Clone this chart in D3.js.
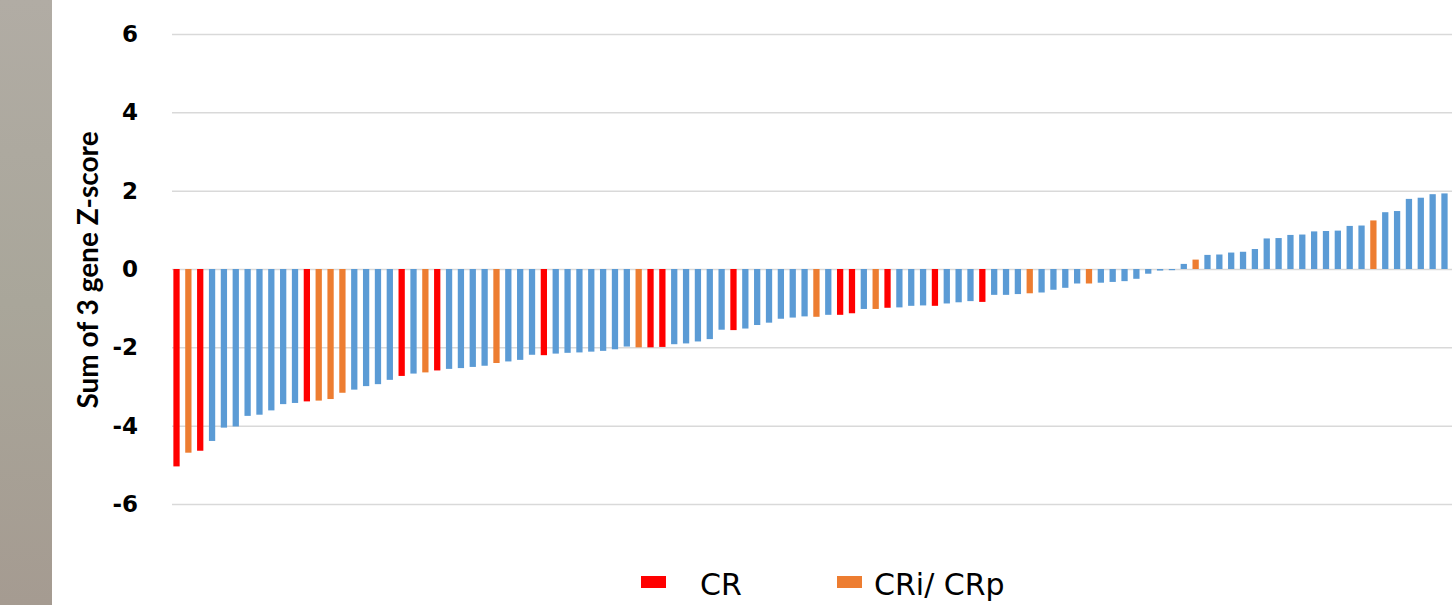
<!DOCTYPE html>
<html>
<head>
<meta charset="utf-8">
<script src="https://cdn.jsdelivr.net/npm/d3@7/dist/d3.min.js"></script>
<style>
  body { margin: 0; background: #fff; }
  svg { display: block; }
</style>
</head>
<body>
<div id="chart"></div>
<script>
// sum of 3 gene z-score per sample, sorted ascending
const zScores = [
  -5.04, -4.69, -4.64, -4.39, -4.05, -4.02, -3.75, -3.72, -3.61, -3.45,
  -3.42, -3.38, -3.36, -3.32, -3.16, -3.08, -2.99, -2.94, -2.83, -2.73,
  -2.67, -2.64, -2.59, -2.55, -2.53, -2.50, -2.47, -2.40, -2.36, -2.32,
  -2.19, -2.20, -2.16, -2.14, -2.13, -2.11, -2.09, -2.05, -1.98, -2.00,
  -2.00, -1.99, -1.92, -1.90, -1.85, -1.79, -1.55, -1.56, -1.52, -1.43,
  -1.37, -1.27, -1.24, -1.21, -1.22, -1.17, -1.17, -1.13, -1.02, -1.02,
  -0.99, -0.98, -0.94, -0.93, -0.94, -0.88, -0.85, -0.82, -0.84, -0.66,
  -0.66, -0.64, -0.62, -0.60, -0.53, -0.48, -0.37, -0.37, -0.35, -0.33,
  -0.31, -0.25, -0.12, -0.04, -0.03, 0.13, 0.24, 0.36, 0.37, 0.42,
  0.44, 0.51, 0.78, 0.79, 0.87, 0.88, 0.96, 0.97, 0.98, 1.10,
  1.11, 1.24, 1.45, 1.48, 1.79, 1.82, 1.91, 1.93
];
// sample numbers (1-based) by response
const crSamples = [1, 3, 12, 20, 23, 32, 41, 42, 48, 57, 58, 61, 65, 69];
const criSamples = [2, 13, 14, 15, 22, 28, 40, 55, 60, 73, 78, 87, 102];
const samples = zScores.map((d, i) => i + 1);
const yTicks = [6, 4, 2, 0, -2, -4, -6];
const legendLabels = ["CR", "CRi/ CRp"];

const colors = { cr: "#ff0000", cri: "#ed7d31", other: "#5b9bd5" };

const W = 1452, H = 605;
const svg = d3.select("#chart").append("svg")
    .attr("width", W)
    .attr("height", H);

// grey strip at the left edge
const grad = svg.append("defs").append("linearGradient")
    .attr("id", "strip").attr("x1", 0).attr("y1", 0).attr("x2", 0).attr("y2", 1);
grad.append("stop").attr("offset", "0%").attr("stop-color", "#b1aca4");
grad.append("stop").attr("offset", "50%").attr("stop-color", "#a9a69a");
grad.append("stop").attr("offset", "100%").attr("stop-color", "#a59b91");
svg.append("rect").attr("x", 0).attr("y", 0).attr("width", 52).attr("height", H)
    .attr("fill", "url(#strip)");

const x = d3.scaleBand().domain(samples).range([171, 1450])
    .paddingInner(0.47).paddingOuter(0.2);
const y = d3.scaleLinear().domain([-6, 6]).range([504, 34]);

// gridlines
svg.append("g")
    .attr("transform", "translate(172,0)")
    .call(d3.axisLeft(y).tickValues(yTicks).tickSize(-(W - 172)).tickFormat(""))
    .call(g => g.select(".domain").remove())
    .call(g => g.selectAll("line").attr("stroke", "#d9d9d9").attr("stroke-width", 1.5));

// y tick labels (plain hyphen minus, like the original)
svg.append("g")
    .attr("transform", "translate(138,0)")
    .call(d3.axisLeft(y).tickValues(yTicks).tickSize(0).tickPadding(0)
        .tickFormat(d => String(d)))
    .call(g => g.select(".domain").remove())
    .call(g => g.selectAll("text")
        .attr("font-family", "DejaVu Sans")
        .attr("font-weight", "bold")
        .attr("font-size", 23)
        .attr("fill", "#000"));

svg.append("text")
    .attr("transform", "translate(98,270) rotate(-90)")
    .attr("text-anchor", "middle")
    .attr("font-family", "Lato")
    .attr("font-weight", "bold")
    .attr("font-size", 28)
    .attr("fill", "#000")
    .text("Sum of 3 gene  Z-score");

function barColor(s) {
    if (crSamples.includes(s)) return colors.cr;
    if (criSamples.includes(s)) return colors.cri;
    return colors.other;
}

svg.append("g").selectAll("rect")
    .data(zScores)
    .join("rect")
    .attr("x", (d, i) => x(samples[i]))
    .attr("width", x.bandwidth())
    .attr("y", d => y(Math.max(0, d)))
    .attr("height", d => Math.abs(y(d) - y(0)))
    .attr("fill", (d, i) => barColor(samples[i]));

// legend
const legend = svg.append("g");
const legendX = [641, 837];
const legendColors = [colors.cr, colors.cri];
legendLabels.forEach((label, i) => {
    legend.append("rect")
        .attr("x", legendX[i]).attr("y", 576)
        .attr("width", 25).attr("height", 12)
        .attr("fill", legendColors[i]);
    legend.append("text")
        .attr("x", legendX[i] + (i === 0 ? 59 : 37))
        .attr("y", 595)
        .attr("font-family", "DejaVu Sans")
        .attr("font-size", 30)
        .attr("fill", "#000")
        .text(label);
});
</script>
</body>
</html>
